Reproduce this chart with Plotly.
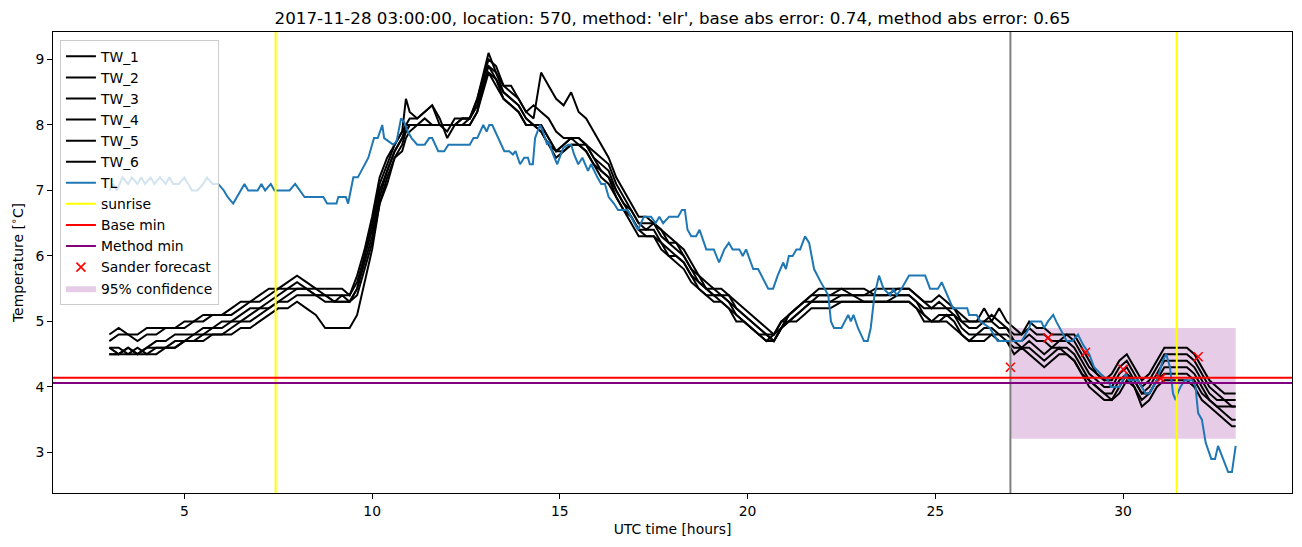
import plotly.graph_objects as go

# ---------------- data ----------------
tw_hours = [
    3.0, 3.25, 3.5, 3.75, 4.0, 4.25, 4.5, 4.75, 5.0, 5.25, 5.5, 5.75, 6.0, 6.25, 6.5, 6.75, 7.0, 7.25, 7.5, 7.75,
    8.0, 8.25, 8.5, 8.75, 9.0, 9.2, 9.4,
    9.6, 9.8, 10.0, 10.2, 10.4, 10.6, 10.8, 10.9, 11.0, 11.2, 11.4, 11.6, 11.8, 12.0, 12.2, 12.4, 12.6, 12.8, 13.0, 13.1,
    13.3, 13.5, 13.7, 13.9, 14.1, 14.3, 14.5, 14.7, 14.9, 15.1, 15.3, 15.5, 15.7, 15.9, 16.1, 16.3, 16.5, 16.7, 16.9, 17.1,
    17.3, 17.5, 17.7, 17.9, 18.1, 18.3, 18.5, 18.7, 18.9, 19.1, 19.3, 19.5, 19.7, 19.9, 20.1, 20.3, 20.5, 20.7, 20.9, 21.1,
    21.3, 21.5, 21.7, 21.9, 22.2, 22.5, 22.8, 23.1, 23.4, 23.7, 24.0, 24.3, 24.5, 24.7, 24.9, 25.1, 25.3, 25.5, 25.7, 25.9,
    26.1, 26.3, 26.5, 26.7, 26.9,
    27.1, 27.3, 27.5, 27.7, 27.9, 28.1, 28.3, 28.5, 28.7, 28.9, 29.1, 29.3, 29.5, 29.7, 29.9, 30.1, 30.3, 30.5, 30.7, 30.9,
    31.1, 31.3, 31.5, 31.7, 31.9, 32.1, 32.3, 32.5, 32.7, 32.9, 33.0,
]

tw_1 = [
    4.8, 4.9, 4.8, 4.8, 4.9, 4.9, 4.9, 4.9, 5.0, 5.0, 5.1, 5.1, 5.1, 5.2, 5.3, 5.3, 5.4, 5.5, 5.5, 5.6,
    5.7, 5.6, 5.5, 5.5, 5.5, 5.5, 5.4,
    5.7, 6.1, 6.6, 7.2, 7.5, 7.7, 7.9, 8.4, 8.2, 8.1, 8.2, 8.3, 8.0, 7.9, 8.1, 8.1, 8.1, 8.4, 8.9, 9.1,
    8.8, 8.6, 8.6, 8.4, 8.2, 8.1, 8.8, 8.6, 8.4, 8.3, 8.5, 8.2, 8.1, 7.9, 7.7, 7.5, 7.2, 7.0, 6.8, 6.6,
    6.6, 6.5, 6.4, 6.3, 6.2, 6.1, 5.9, 5.7, 5.6, 5.5, 5.5, 5.4, 5.3, 5.2, 5.1, 5.0, 4.9, 4.8, 5.0, 5.1,
    5.2, 5.3, 5.4, 5.5, 5.5, 5.5, 5.4, 5.4, 5.5, 5.5, 5.5, 5.5, 5.4, 5.3, 5.3, 5.4, 5.3, 5.2, 5.1, 5.0,
    5.0, 5.2, 5.0, 5.2, 5.0,
    4.9, 4.8, 5.0, 4.9, 4.9, 4.8, 4.8, 4.8, 4.8, 4.6, 4.4, 4.2, 4.1, 4.2, 4.4, 4.5, 4.3, 4.1, 4.2, 4.4,
    4.6, 4.6, 4.6, 4.6, 4.5, 4.3, 4.1, 4.0, 3.9, 3.9, 3.9,
]
tw_2 = [
    4.7, 4.8, 4.8, 4.7, 4.8, 4.8, 4.9, 4.9, 4.9, 5.0, 5.0, 5.1, 5.1, 5.1, 5.2, 5.3, 5.3, 5.4, 5.5, 5.5,
    5.6, 5.5, 5.5, 5.4, 5.4, 5.4, 5.4,
    5.6, 6.0, 6.5, 7.1, 7.4, 7.7, 7.9, 8.0, 8.1, 8.1, 8.2, 8.3, 8.1, 7.8, 8.0, 8.1, 8.1, 8.4, 8.8, 9.0,
    8.9, 8.6, 8.5, 8.4, 8.2, 8.3, 8.2, 8.1, 7.9, 7.8, 7.8, 7.8, 7.7, 7.6, 7.5, 7.4, 7.1, 6.9, 6.7, 6.5,
    6.5, 6.5, 6.4, 6.2, 6.2, 6.0, 5.8, 5.7, 5.5, 5.5, 5.4, 5.4, 5.2, 5.1, 5.0, 4.9, 4.8, 4.8, 4.9, 5.1,
    5.2, 5.3, 5.4, 5.4, 5.4, 5.5, 5.5, 5.5, 5.4, 5.4, 5.5, 5.5, 5.4, 5.3, 5.2, 5.3, 5.2, 5.2, 5.0, 5.0,
    5.0, 5.0, 5.1, 5.0, 4.9,
    4.8, 4.8, 4.9, 4.8, 4.8, 4.7, 4.7, 4.8, 4.7, 4.5, 4.3, 4.2, 4.1, 4.1, 4.3, 4.4, 4.2, 4.0, 4.1, 4.3,
    4.5, 4.5, 4.5, 4.5, 4.4, 4.2, 4.0, 3.9, 3.8, 3.8, 3.8,
]
tw_3 = [
    4.6, 4.5, 4.6, 4.5, 4.6, 4.7, 4.7, 4.8, 4.8, 4.8, 4.9, 4.9, 5.0, 5.0, 5.1, 5.2, 5.2, 5.3, 5.4, 5.5,
    5.5, 5.5, 5.4, 5.4, 5.3, 5.4, 5.3,
    5.5, 6.0, 6.4, 7.0, 7.3, 7.6, 7.8, 8.0, 8.0, 8.0, 8.1, 8.0, 8.0, 8.0, 8.0, 8.1, 8.1, 8.3, 8.8, 8.9,
    8.8, 8.5, 8.4, 8.3, 8.1, 8.0, 8.0, 7.8, 7.6, 7.7, 7.8, 7.8, 7.7, 7.5, 7.4, 7.3, 7.0, 6.8, 6.7, 6.5,
    6.4, 6.5, 6.3, 6.2, 6.1, 6.0, 5.8, 5.6, 5.5, 5.4, 5.4, 5.3, 5.2, 5.1, 5.0, 4.9, 4.8, 4.7, 4.9, 5.1,
    5.2, 5.3, 5.3, 5.4, 5.4, 5.4, 5.4, 5.4, 5.4, 5.4, 5.4, 5.4, 5.3, 5.2, 5.2, 5.2, 5.2, 5.1, 5.0, 4.9,
    4.9, 5.0, 5.0, 4.9, 4.9,
    4.7, 4.7, 4.8, 4.7, 4.7, 4.6, 4.7, 4.7, 4.6, 4.4, 4.2, 4.1, 4.0, 4.0, 4.2, 4.3, 4.1, 3.9, 4.0, 4.2,
    4.4, 4.4, 4.4, 4.4, 4.3, 4.1, 3.9, 3.8, 3.8, 3.7, 3.7,
]
tw_4 = [
    4.6, 4.6, 4.5, 4.5, 4.6, 4.6, 4.6, 4.7, 4.7, 4.8, 4.8, 4.9, 4.9, 5.0, 5.0, 5.1, 5.2, 5.2, 5.3, 5.4,
    5.5, 5.5, 5.4, 5.3, 5.3, 5.3, 5.3,
    5.5, 5.9, 6.3, 6.9, 7.3, 7.6, 7.8, 7.9, 8.0, 8.0, 8.0, 8.0, 8.0, 8.0, 8.0, 8.0, 8.1, 8.3, 8.7, 8.9,
    8.7, 8.5, 8.4, 8.3, 8.1, 8.0, 8.0, 7.8, 7.6, 7.7, 7.8, 7.7, 7.7, 7.5, 7.3, 7.2, 7.0, 6.8, 6.6, 6.4,
    6.4, 6.4, 6.2, 6.1, 6.0, 5.9, 5.7, 5.6, 5.5, 5.4, 5.4, 5.3, 5.1, 5.0, 4.9, 4.8, 4.8, 4.7, 4.9, 5.0,
    5.1, 5.2, 5.3, 5.3, 5.3, 5.4, 5.4, 5.3, 5.3, 5.3, 5.4, 5.4, 5.3, 5.1, 5.0, 5.1, 5.1, 5.1, 4.9, 4.8,
    4.8, 4.9, 4.9, 4.8, 4.8,
    4.7, 4.6, 4.7, 4.6, 4.5, 4.6, 4.6, 4.6, 4.5, 4.3, 4.1, 4.0, 3.9, 3.9, 4.1, 4.2, 4.1, 3.9, 3.9, 4.1,
    4.3, 4.3, 4.3, 4.3, 4.2, 4.0, 3.8, 3.7, 3.7, 3.7, 3.7,
]
tw_5 = [
    4.5, 4.5, 4.6, 4.5, 4.5, 4.6, 4.6, 4.6, 4.7, 4.7, 4.8, 4.8, 4.8, 4.9, 5.0, 5.0, 5.1, 5.2, 5.3, 5.3,
    5.4, 5.4, 5.4, 5.4, 5.3, 5.3, 5.3,
    5.4, 5.8, 6.2, 6.8, 7.2, 7.5, 7.7, 7.9, 8.0, 8.0, 8.0, 8.0, 8.0, 8.0, 8.0, 8.0, 8.0, 8.2, 8.7, 8.8,
    8.7, 8.4, 8.3, 8.2, 8.0, 8.0, 7.9, 7.7, 7.6, 7.6, 7.7, 7.7, 7.6, 7.4, 7.3, 7.2, 6.9, 6.7, 6.6, 6.4,
    6.3, 6.3, 6.2, 6.0, 6.0, 5.9, 5.7, 5.5, 5.4, 5.4, 5.3, 5.2, 5.1, 5.0, 4.9, 4.8, 4.7, 4.7, 4.9, 5.0,
    5.1, 5.2, 5.3, 5.3, 5.3, 5.3, 5.3, 5.3, 5.3, 5.3, 5.3, 5.3, 5.2, 5.1, 5.0, 5.0, 5.1, 5.0, 4.8, 4.7,
    4.8, 4.8, 4.8, 4.8, 4.7,
    4.6, 4.6, 4.6, 4.5, 4.4, 4.5, 4.6, 4.5, 4.4, 4.2, 4.1, 4.0, 3.9, 3.8, 4.0, 4.2, 4.0, 3.8, 3.9, 4.1,
    4.2, 4.2, 4.2, 4.2, 4.1, 3.9, 3.8, 3.7, 3.6, 3.5, 3.5,
]
tw_6 = [
    4.5, 4.5, 4.5, 4.6, 4.5, 4.5, 4.6, 4.6, 4.7, 4.7, 4.7, 4.8, 4.8, 4.8, 4.9, 4.9, 5.0, 5.1, 5.2, 5.2,
    5.3, 5.2, 5.1, 4.9, 4.9, 4.9, 4.9,
    5.1, 5.6, 6.1, 6.8, 7.1, 7.5, 7.6, 7.8, 7.9, 8.0, 8.0, 8.0, 8.0, 8.0, 8.0, 8.0, 8.0, 8.2, 8.6, 8.8,
    8.6, 8.4, 8.3, 8.2, 8.0, 8.0, 7.9, 7.7, 7.5, 7.6, 7.7, 7.7, 7.6, 7.4, 7.2, 7.1, 6.9, 6.7, 6.5, 6.3,
    6.3, 6.3, 6.1, 6.0, 5.9, 5.8, 5.6, 5.5, 5.4, 5.3, 5.3, 5.2, 5.0, 5.0, 4.9, 4.8, 4.7, 4.8, 5.0, 5.0,
    5.0, 5.1, 5.2, 5.2, 5.2, 5.3, 5.3, 5.3, 5.3, 5.3, 5.3, 5.3, 5.2, 5.0, 5.0, 5.0, 5.0, 4.9, 4.8, 4.7,
    4.7, 4.7, 4.8, 4.7, 4.7,
    4.5, 4.6, 4.5, 4.4, 4.3, 4.4, 4.5, 4.5, 4.4, 4.2, 4.0, 3.9, 3.8, 3.8, 3.9, 4.1, 4.0, 3.7, 3.8, 4.0,
    4.1, 4.1, 4.1, 4.1, 4.0, 3.8, 3.7, 3.6, 3.5, 3.4, 3.4,
]

tl_hours = [
    3.0, 3.1, 3.2, 3.35, 3.5, 3.6, 3.75, 3.85, 3.95, 4.1, 4.2, 4.35, 4.5, 4.6, 4.7, 4.85, 5.0, 5.1, 5.2, 5.35,
    5.5, 5.6, 5.75, 5.9, 6.05, 6.15, 6.3, 6.4, 6.6, 6.7, 6.95, 7.05, 7.15, 7.3, 7.4, 7.8, 7.95, 8.2, 8.7, 8.8,
    9.05, 9.1, 9.3, 9.36, 9.5, 9.62, 9.9, 10.05, 10.15, 10.27, 10.32, 10.56, 10.65, 10.77, 10.85, 10.95, 11.05, 11.2, 11.4, 11.52,
    11.6, 11.76, 11.92, 12.03, 12.6, 12.7, 12.8, 12.96, 13.05, 13.12, 13.2, 13.52, 13.65, 13.75, 13.82, 13.94, 14.05, 14.15, 14.2, 14.28,
    14.34, 14.47, 14.55, 14.66, 14.7, 14.82, 14.93, 15.09, 15.22, 15.3, 15.38, 15.49, 15.6, 15.75, 15.83, 16.0, 16.1, 16.2, 16.3, 16.44,
    16.55, 16.8, 16.9, 17.08, 17.24, 17.43, 17.55, 17.65, 17.75, 17.91, 18.15, 18.25, 18.33, 18.4, 18.5, 18.63, 18.72, 18.9, 19.1, 19.24,
    19.38, 19.5, 19.6, 19.78, 19.87, 19.96, 20.15, 20.28, 20.55, 20.68, 20.8, 20.95, 21.02, 21.1, 21.2, 21.3, 21.4, 21.53, 21.64, 21.77,
    21.95, 22.15, 22.22, 22.3, 22.5, 22.68, 22.75, 22.82, 22.94, 23.1, 23.2, 23.28, 23.38, 23.5, 23.62, 23.8, 23.88, 23.97, 24.1, 24.3,
    24.73, 24.86, 25.07, 25.17, 25.32, 25.47, 25.85, 25.9, 26.1, 26.2, 26.45, 26.66, 27.05, 27.3, 27.5, 27.55, 27.82, 27.9, 28.0, 28.14,
    28.22, 28.4, 28.5, 28.65, 28.8, 28.93, 29.1, 29.23, 29.4, 29.6, 29.67, 29.9, 30.08, 30.15, 30.3, 30.4, 30.6, 30.7, 30.9, 31.06,
    31.15, 31.25, 31.33, 31.4, 31.45, 31.53, 31.64, 31.85, 31.93, 32.0, 32.1, 32.2, 32.35, 32.45, 32.53, 32.7, 32.8, 32.9, 33.0,
]
tl_values = [
    7.0, 7.1, 7.0, 7.2, 7.1, 7.2, 7.1, 7.2, 7.1, 7.2, 7.1, 7.2, 7.1, 7.2, 7.1, 7.1, 7.2, 7.1, 7.0, 7.0,
    7.1, 7.2, 7.1, 7.1, 7.0, 6.9, 6.8, 6.9, 7.1, 7.0, 7.0, 7.1, 7.0, 7.1, 7.0, 7.0, 7.1, 6.9, 6.9, 6.8,
    6.8, 6.9, 6.9, 6.8, 7.2, 7.2, 7.5, 7.8, 7.8, 8.0, 7.8, 7.7, 7.75, 8.1, 8.05, 7.9, 7.8, 7.7, 7.7, 7.8,
    7.8, 7.6, 7.6, 7.7, 7.7, 7.8, 7.8, 8.0, 7.9, 8.0, 8.0, 7.6, 7.6, 7.55, 7.6, 7.4, 7.5, 7.5, 7.4, 7.4,
    7.8, 8.0, 7.9, 7.7, 7.75, 7.55, 7.4, 7.65, 7.7, 7.7, 7.55, 7.4, 7.5, 7.3, 7.4, 7.2, 7.1, 7.1, 6.9, 6.8,
    6.7, 6.7, 6.6, 6.4, 6.6, 6.6, 6.5, 6.6, 6.5, 6.6, 6.6, 6.7, 6.7, 6.4, 6.3, 6.3, 6.4, 6.1, 6.1, 5.9,
    6.1, 6.2, 6.1, 6.1, 6.0, 6.1, 5.8, 5.8, 5.5, 5.5, 5.7, 5.9, 5.8, 6.0, 6.0, 6.1, 6.1, 6.3, 6.2, 5.8,
    5.6, 5.4, 5.0, 4.9, 4.9, 5.1, 5.0, 5.1, 4.9, 4.7, 4.7, 4.9, 5.4, 5.7, 5.5, 5.4, 5.5, 5.4, 5.5, 5.7,
    5.7, 5.5, 5.5, 5.6, 5.4, 5.2, 5.2, 5.1, 5.1, 5.0, 4.9, 4.7, 4.7, 4.7, 4.9, 5.0, 5.0, 4.9, 5.0, 5.1,
    5.0, 4.8, 4.7, 4.7, 4.8, 4.65, 4.5, 4.3, 4.2, 4.1, 4.0, 4.0, 4.2, 4.1, 4.1, 4.1, 3.9, 3.9, 4.1, 4.4,
    4.5, 4.3, 3.9, 3.8, 3.9, 4.0, 4.1, 4.1, 4.0, 3.6, 3.5, 3.15, 2.9, 2.9, 3.1, 2.85, 2.7, 2.7, 3.1,
]

sunrise_hours = [7.43, 31.43]
forecast_start = 27.0
base_min = 4.14
method_min = 4.06
sander_hours = [27, 28, 29, 30, 31, 32]
sander_values = [4.30, 4.75, 4.53, 4.27, 4.13, 4.46]
conf_hours = [27.0, 33.0]
conf_low = 3.21
conf_high = 4.90

x_ticks = [5, 10, 15, 20, 25, 30]
y_ticks = [3, 4, 5, 6, 7, 8, 9]
x_range = [1.5, 34.5]
y_range = [2.38, 9.42]

title_text = ("2017-11-28 03:00:00, location: 570, method: 'elr', "
              "base abs error: 0.74, method abs error: 0.65")

for s in (tw_1, tw_2, tw_3, tw_4, tw_5, tw_6):
    assert len(s) == len(tw_hours), (len(s), len(tw_hours))
assert len(tl_values) == len(tl_hours), (len(tl_values), len(tl_hours))

# ---------------- figure ----------------
FONT = "DejaVu Sans"
fig = go.Figure()

# confidence box (drawn first so it sits beneath the lines)
fig.add_trace(go.Scatter(
    x=[conf_hours[0], conf_hours[1], conf_hours[1], conf_hours[0], conf_hours[0]],
    y=[conf_low, conf_low, conf_high, conf_high, conf_low],
    mode="lines", fill="toself", fillcolor="rgba(128,0,128,0.2)",
    line=dict(width=0, color="rgba(128,0,128,0)"),
    name="95% confidence", legendrank=12, hoverinfo="skip"))

for i, s in enumerate((tw_1, tw_2, tw_3, tw_4, tw_5, tw_6)):
    fig.add_trace(go.Scatter(x=tw_hours, y=s, mode="lines", name=f"TW_{i+1}",
                             line=dict(color="black", width=2), legendrank=i + 1))

fig.add_trace(go.Scatter(x=tl_hours, y=tl_values, mode="lines", name="TL",
                         line=dict(color="#1f77b4", width=2), legendrank=7))

# legend-only entries for reference lines
fig.add_trace(go.Scatter(x=[None], y=[None], mode="lines", name="sunrise",
                         line=dict(color="yellow", width=2), legendrank=8))
fig.add_trace(go.Scatter(x=[None], y=[None], mode="lines", name="Base min",
                         line=dict(color="red", width=2), legendrank=9))
fig.add_trace(go.Scatter(x=[None], y=[None], mode="lines", name="Method min",
                         line=dict(color="purple", width=2), legendrank=10))

fig.add_trace(go.Scatter(x=sander_hours, y=sander_values, mode="markers", name="Sander forecast",
                         marker=dict(symbol="x-thin", size=9, color="red",
                                     line=dict(color="red", width=1.6)),
                         legendrank=11))

shapes = []
for h in sunrise_hours:
    shapes.append(dict(type="line", xref="x", yref="y domain", x0=h, x1=h, y0=0, y1=1,
                       line=dict(color="yellow", width=2), layer="above"))
shapes.append(dict(type="line", xref="x", yref="y domain", x0=forecast_start, x1=forecast_start,
                   y0=0, y1=1, line=dict(color="gray", width=2), layer="above"))
shapes.append(dict(type="line", xref="x domain", yref="y", x0=0, x1=1, y0=base_min, y1=base_min,
                   line=dict(color="red", width=2), layer="above"))
shapes.append(dict(type="line", xref="x domain", yref="y", x0=0, x1=1, y0=method_min, y1=method_min,
                   line=dict(color="purple", width=2), layer="above"))

axis_common = dict(showline=True, linecolor="black", linewidth=1, mirror=True,
                   ticks="outside", ticklen=5, tickwidth=1, tickcolor="black",
                   showgrid=False, zeroline=False,
                   tickfont=dict(family=FONT, size=13.9, color="black"))

fig.update_layout(
    width=1302, height=547,
    margin=dict(l=53, r=10, t=32, b=54),
    paper_bgcolor="white", plot_bgcolor="white",
    font=dict(family=FONT, size=13.9, color="black"),
    title=dict(text=title_text, x=0.5165, xanchor="center", y=1 - 18 / 547, yanchor="middle",
               yref="container", font=dict(family=FONT, size=16.7, color="black")),
    xaxis=dict(range=x_range, tickvals=x_ticks,
               title=dict(text="UTC time [hours]", standoff=6,
                          font=dict(family=FONT, size=13.9)), **axis_common),
    yaxis=dict(range=y_range, tickvals=y_ticks,
               title=dict(text="Temperature [<sup>∘</sup>C]", standoff=8,
                          font=dict(family=FONT, size=13.9)), **axis_common),
    legend=dict(x=0.0056, y=0.983, xanchor="left", yanchor="top",
                bgcolor="rgba(255,255,255,0.8)", bordercolor="#cccccc", borderwidth=1,
                font=dict(family=FONT, size=13.9), tracegroupgap=0, itemwidth=30),
    shapes=shapes,
    showlegend=True,
)

fig.write_html("out.html")
